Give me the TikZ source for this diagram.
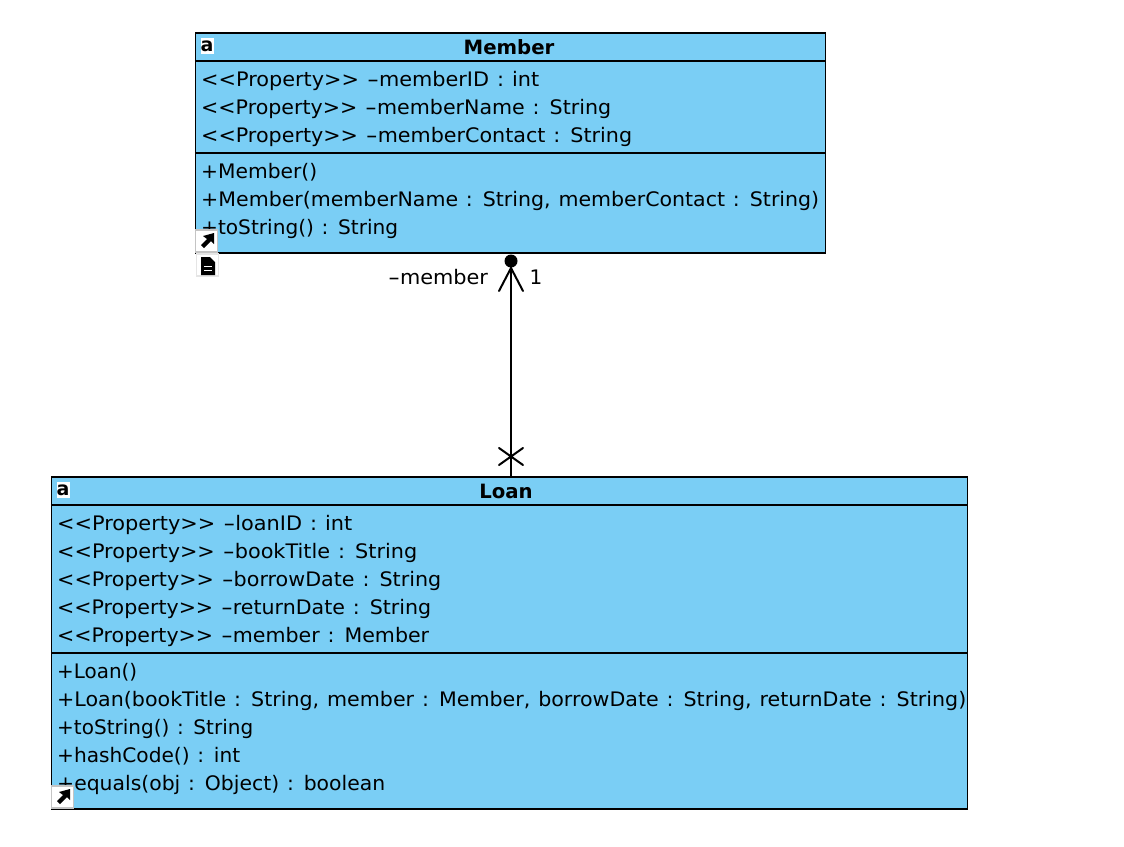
\documentclass[tikz,border=0pt]{standalone}
\usepackage{fontspec}
\usepackage{graphicx}
\setmainfont[WordSpace=1.2]{DejaVu Sans}
\definecolor{classfill}{HTML}{7ACEF5}
\definecolor{iconedge}{HTML}{C4C4C4}
\newcommand{\umltext}{\fontsize{20}{24}\selectfont}
\newcommand{\hy}{\scalebox{1.6}[1]{-}}
\newcommand{\fitw}[2]{\resizebox{#1pt}{\height}{#2}}
\tikzset{
  x=1pt,y=-1pt,
  classbox/.style={draw=black,line width=1.4pt,fill=classfill,inner sep=0pt,rectangle},
  divider/.style={line width=1.4pt},
  member line/.style={anchor=base west,inner sep=0pt,font=\umltext},
  class title/.style={anchor=base,inner sep=0pt,font=\fontsize{19.7}{24}\selectfont\bfseries},
  role label/.style={anchor=base,inner sep=0pt,font=\umltext},
  assoc/.style={line width=2pt,line cap=round},
  badge/.style={draw=iconedge,line width=1.2pt,fill=white,inner sep=0pt,minimum width=22pt,minimum height=22pt,rectangle},
  icon letter/.style={inner sep=0pt,font=\fontsize{19}{19}\selectfont\bfseries,text=black,fill=white,minimum width=13pt,minimum height=16pt}
}
\begin{document}
\begin{tikzpicture}
\useasboundingbox (0,0) rectangle (1124,846);
% Member
\node[classbox,minimum width=630pt,minimum height=220pt] (member) at (510.5,143) {};
\draw[divider] (member.west |- 0,61) -- (member.east |- 0,61);
\draw[divider] (member.west |- 0,153) -- (member.east |- 0,153);
\node[class title] (mtitle) at (509,54.5) {Member};
\node[icon letter] (micon) at (207,46) {a};
\node[member line] (m1) at (201,86.8) {\fitw{338}{<{}<Property>{}> \hy memberID : int}};
\node[member line] (m2) at (201,114.8) {\fitw{410}{<{}<Property>{}> \hy memberName : String}};
\node[member line] (m3) at (201,142.8) {\fitw{431}{<{}<Property>{}> \hy memberContact : String}};
\node[member line] (m4) at (201,178.8) {\fitw{116}{+Member()}};
\node[member line] (m5) at (201,206.8) {\fitw{618}{+Member(memberName : String, memberContact : String)}};
\node[member line] (m6) at (201,234.8) {\fitw{197}{+toString() : String}};
\node[badge] (mbadge1) at (206.5,241) {};
\fill[black] (203,236) -- (214,233) -- (214,244) -- (211,241) -- (204,248) -- (201,245) -- (207,239) -- cycle;
\node[badge,draw=white!90!black] (mbadge2) at (207.5,265) {};
\fill[black] (201,257) -- (210,257) -- (215,262) -- (215,275) -- (201,275) -- cycle;
\draw[white,line width=1pt] (204,266) -- (212,266) (204,270) -- (212,270);
% Loan
\node[classbox,minimum width=916pt,minimum height=332pt] (loan) at (509.5,643) {};
\draw[divider] (loan.west |- 0,505) -- (loan.east |- 0,505);
\draw[divider] (loan.west |- 0,653) -- (loan.east |- 0,653);
\node[class title] (ltitle) at (506,498.5) {Loan};
\node[icon letter] (licon) at (63,490) {a};
\node[member line] (l1) at (57,530.8) {\fitw{295}{<{}<Property>{}> \hy loanID : int}};
\node[member line] (l2) at (57,558.8) {\fitw{360}{<{}<Property>{}> \hy bookTitle : String}};
\node[member line] (l3) at (57,586.8) {\fitw{384}{<{}<Property>{}> \hy borrowDate : String}};
\node[member line] (l4) at (57,614.8) {\fitw{374}{<{}<Property>{}> \hy returnDate : String}};
\node[member line] (l5) at (57,642.8) {\fitw{372}{<{}<Property>{}> \hy member : Member}};
\node[member line] (l6) at (57,678.8) {\fitw{80}{+Loan()}};
\node[member line] (l7) at (57,706.8) {\fitw{909}{+Loan(bookTitle : String, member : Member, borrowDate : String, returnDate : String)}};
\node[member line] (l8) at (57,734.8) {\fitw{196}{+toString() : String}};
\node[member line] (l9) at (57,762.8) {\fitw{183}{+hashCode() : int}};
\node[member line] (l10) at (57,790.8) {\fitw{328}{+equals(obj : Object) : boolean}};
\node[badge] (lbadge) at (62.5,797) {};
\fill[black] (59,792) -- (70,789) -- (70,800) -- (67,797) -- (60,804) -- (57,801) -- (63,795) -- cycle;
% Association
\node[circle,fill=black,inner sep=0pt,minimum size=13pt] (dot) at (511,261) {};
\coordinate (apex) at (511,268);
\coordinate (crossc) at (511,457);
\draw[assoc] (dot) -- (dot |- loan.north);
\draw[assoc] (499,291) -- (apex) -- (523,291);
\draw[assoc] (499,448) -- (523,465) (499,465) -- (523,448);
\node[role label] (rname) at (438,284.5) {\fitw{100}{\hy member}};
\node[role label] (rmult) at (536,284.5) {1};
\end{tikzpicture}
\end{document}
